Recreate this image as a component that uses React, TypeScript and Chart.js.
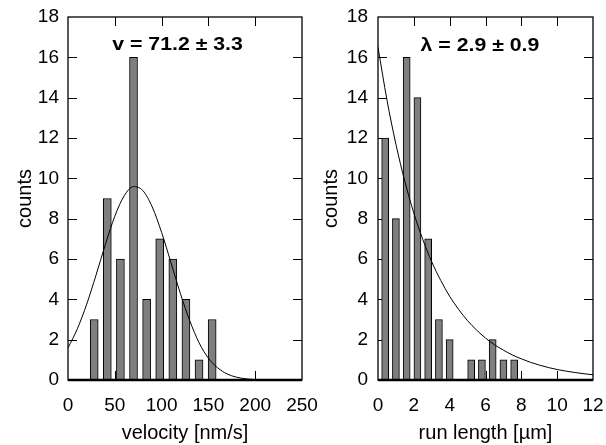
import React, { useEffect, useRef } from "react";
import { Chart, registerables } from "chart.js";

Chart.register(...registerables);

// ---------- data: velocity histogram ----------
const velocityBins = [28, 42, 56, 70, 84, 98, 112, 126, 140, 154];
const velocityCounts = [3, 9, 6, 16, 4, 7, 6, 4, 1, 3];
const velocityFitX = [0, 10, 20, 30, 40, 50, 60, 70, 80, 90, 100, 110, 120, 130, 140, 150, 160, 170, 180, 190, 200, 210, 220, 230, 240, 250];
const velocityFitY = [1.59, 2.54, 3.76, 5.21, 6.73, 8.12, 9.13, 9.59, 9.39, 8.58, 7.32, 5.82, 4.3, 2.95, 1.85, 1.08, 0.6, 0.3, 0.14, 0.06, 0.02, 0.01, 0, 0, 0, 0];
const velocityAxis = { min: 0, max: 250, step: 50 };
const velocityLabel = "v = 71.2 ± 3.3";
const velocityLabelPos = { x: 117, y: 16.6 };

// ---------- data: run length histogram ----------
const runBins = [0.4, 1.0, 1.6, 2.2, 2.8, 3.4, 4.0, 4.6, 5.2, 5.8, 6.4, 7.0, 7.6];
const runCounts = [12, 8, 16, 14, 7, 3, 2, 0, 1, 1, 2, 1, 1];
const runFitX = [0, 0.5, 1, 1.5, 2, 2.5, 3, 3.5, 4, 4.5, 5, 5.5, 6, 6.5, 7, 7.5, 8, 8.5, 9, 9.5, 10, 10.5, 11, 11.5, 12];
const runFitY = [16.5, 13.89, 11.69, 9.84, 8.28, 6.97, 5.86, 4.94, 4.15, 3.5, 2.94, 2.48, 2.08, 1.75, 1.48, 1.24, 1.05, 0.88, 0.74, 0.62, 0.52, 0.44, 0.37, 0.31, 0.26];
const runAxis = { min: 0, max: 12, step: 2 };
const runLabel = "λ = 2.9 ± 0.9";
const runLabelPos = { x: 5.69, y: 16.55 };

const countAxis = { min: 0, max: 18, step: 2 };

const FONT = "'Liberation Sans', Arial, sans-serif";

type Cfg = {
  bins: number[];
  counts: number[];
  fitX: number[];
  fitY: number[];
  xAxis: { min: number; max: number; step: number };
  xTitle: string;
  label: string;
  labelPos: { x: number; y: number };
  yAxisWidth: number;
  yTitlePad: number;
  yTickPad: number;
  padRight: number;
  barThickness: number;
};

const framePlugin = {
  id: "frame",
  beforeDatasetsDraw(chart: any) {
    const { ctx, chartArea: a, scales } = chart;
    const xs = scales.x;
    const ys = scales.y;
    const tl = 9;
    ctx.save();
    ctx.strokeStyle = "#000";
    ctx.lineWidth = 1;
    ctx.beginPath();
    xs.ticks.forEach((t: any) => {
      const px = Math.round(xs.getPixelForValue(t.value)) + 0.5;
      if (px <= a.left + 1 || px >= a.right - 1) return;
      ctx.moveTo(px, a.top);
      ctx.lineTo(px, a.top + tl);
      ctx.moveTo(px, a.bottom);
      ctx.lineTo(px, a.bottom - tl);
    });
    ys.ticks.forEach((t: any) => {
      const py = Math.round(ys.getPixelForValue(t.value)) + 0.5;
      if (py <= a.top + 1 || py >= a.bottom - 1) return;
      ctx.moveTo(a.left, py);
      ctx.lineTo(a.left + tl, py);
      ctx.moveTo(a.right, py);
      ctx.lineTo(a.right - tl, py);
    });
    ctx.stroke();
    ctx.restore();
  },
  afterDatasetsDraw(chart: any, _args: any, opts: any) {
    const { ctx, chartArea: a, scales } = chart;
    ctx.save();
    ctx.strokeStyle = "#000";
    ctx.lineWidth = 1.3;
    ctx.strokeRect(a.left, a.top, a.right - a.left, a.bottom - a.top);
    ctx.lineWidth = 2.5;
    ctx.beginPath();
    ctx.moveTo(a.left, a.bottom);
    ctx.lineTo(a.right, a.bottom);
    ctx.stroke();
    // annotation
    const px = scales.x.getPixelForValue(opts.pos.x);
    const py = scales.y.getPixelForValue(opts.pos.y);
    ctx.translate(px, py);
    ctx.scale(1.12, 1);
    ctx.font = `bold 19px ${FONT}`;
    ctx.fillStyle = "#000";
    ctx.textAlign = "center";
    ctx.textBaseline = "middle";
    ctx.fillText(opts.text, 0, 0);
    ctx.restore();
  },
};

function makeChart(canvas: HTMLCanvasElement, c: Cfg) {
  const barData = c.bins.map((b, i) => ({ x: b, y: c.counts[i] }));
  const fitData = c.fitX.map((x, i) => ({ x, y: c.fitY[i] }));
  return new Chart(canvas, {
    type: "bar",
    data: {
      datasets: [
        {
          type: "line",
          data: fitData,
          borderColor: "#000",
          borderWidth: 1,
          pointRadius: 0,
          cubicInterpolationMode: "monotone",
          fill: false,
          order: 1,
        } as any,
        {
          type: "bar",
          data: barData,
          backgroundColor: "#7f7f7f",
          borderColor: "#000",
          borderWidth: 1,
          barThickness: c.barThickness,
          order: 2,
        } as any,
      ],
    },
    options: {
      animation: false,
      responsive: true,
      maintainAspectRatio: false,
      layout: { padding: { top: 17, right: c.padRight, bottom: 0, left: 0 } },
      plugins: {
        legend: { display: false },
        tooltip: { enabled: false },
        frame: { text: c.label, pos: c.labelPos },
      } as any,
      scales: {
        x: {
          type: "linear",
          offset: false,
          min: c.xAxis.min,
          max: c.xAxis.max,
          grid: { display: false, drawTicks: false },
          border: { display: false },
          ticks: {
            stepSize: c.xAxis.step,
            padding: 14,
            color: "#000",
            font: { family: FONT, size: 19 },
            maxRotation: 0,
          },
          title: {
            display: true,
            text: c.xTitle,
            color: "#000",
            font: { family: FONT, size: 20 },
            padding: { top: 0, bottom: 0 },
          },
          afterFit(scale: any) {
            scale.height = 65;
            scale.paddingLeft = 0;
            scale.paddingRight = 0;
          },
        },
        y: {
          type: "linear",
          min: countAxis.min,
          max: countAxis.max,
          grid: { display: false, drawTicks: false },
          border: { display: false },
          ticks: {
            stepSize: countAxis.step,
            padding: c.yTickPad,
            color: "#000",
            font: { family: FONT, size: 19 },
          },
          title: {
            display: true,
            text: "counts",
            color: "#000",
            font: { family: FONT, size: 20 },
            padding: { top: c.yTitlePad, bottom: 0 },
          },
          afterFit(scale: any) {
            scale.width = c.yAxisWidth;
            scale.paddingTop = 0;
            scale.paddingBottom = 0;
          },
        },
      },
    },
    plugins: [framePlugin],
  } as any);
}

function Panel({ left, width, cfg }: { left: number; width: number; cfg: Cfg }) {
  const ref = useRef<HTMLCanvasElement | null>(null);
  useEffect(() => {
    if (!ref.current) return;
    const chart = makeChart(ref.current, cfg);
    return () => chart.destroy();
  }, []);
  return (
    <div style={{ position: "absolute", left, top: 0, width, height: 445 }}>
      <canvas ref={ref} />
    </div>
  );
}

const leftCfg: Cfg = {
  bins: velocityBins,
  counts: velocityCounts,
  fitX: velocityFitX,
  fitY: velocityFitY,
  xAxis: velocityAxis,
  xTitle: "velocity [nm/s]",
  label: velocityLabel,
  labelPos: velocityLabelPos,
  yAxisWidth: 68,
  yTitlePad: 13,
  yTickPad: 9,
  padRight: 18,
  barThickness: 8,
};

const rightCfg: Cfg = {
  bins: runBins,
  counts: runCounts,
  fitX: runFitX,
  fitY: runFitY,
  xAxis: runAxis,
  xTitle: "run length [µm]",
  label: runLabel,
  labelPos: runLabelPos,
  yAxisWidth: 78,
  yTitlePad: 19,
  yTickPad: 10,
  padRight: 13,
  barThickness: 7,
};

export default function App() {
  return (
    <div style={{ position: "fixed", left: 0, top: 0, width: 606, height: 445, background: "#fff" }}>
      <Panel left={0} width={320} cfg={leftCfg} />
      <Panel left={300} width={306} cfg={rightCfg} />
    </div>
  );
}
